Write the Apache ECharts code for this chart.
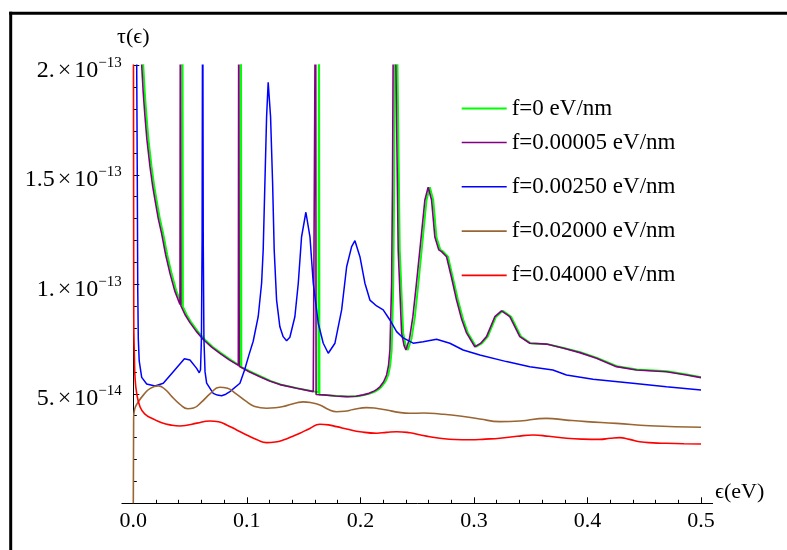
<!DOCTYPE html>
<html>
<head>
<meta charset="utf-8">
<script src="https://cdn.jsdelivr.net/npm/echarts@6/dist/echarts.min.js"></script>
<style>
  html, body { margin: 0; padding: 0; background: #fff; }
  #chart { width: 787px; height: 550px; }
</style>
</head>
<body>
<div id="chart"></div>
<script>
// Legend names and colours of the five field strengths
const seriesNames = ['f=0 eV/nm', 'f=0.00005 eV/nm', 'f=0.00250 eV/nm', 'f=0.02000 eV/nm', 'f=0.04000 eV/nm'];
const seriesColors = ['#00ff00', '#800080', '#0000ff', '#996633', '#ff0000'];

// τ(ϵ) in units of 1e-14, as [ϵ in eV, τ] pairs; values above 20 are off-scale resonance tops
const tauF0 = [
  [0.0075, 26], [0.0088, 20.0], [0.0102, 18.7], [0.0117, 17.65], [0.0134, 16.6], [0.0161, 15.37],
  [0.0184, 14.5], [0.0205, 13.85], [0.0234, 13.0], [0.0264, 12.3], [0.0299, 11.35], [0.0337, 10.5],
  [0.0379, 9.7], [0.0429, 9.05], [0.0433, 26], [0.0437, 8.98], [0.0469, 8.62], [0.0512, 8.25],
  [0.0568, 7.85], [0.0629, 7.48], [0.0703, 7.13], [0.0776, 6.85], [0.0858, 6.55], [0.0944, 6.27],
  [0.0948, 26], [0.0952, 6.22], [0.1033, 6.01], [0.1128, 5.78], [0.1213, 5.58], [0.1304, 5.42],
  [0.1451, 5.25], [0.1598, 5.10], [0.1630, 5.06], [0.1635, 26], [0.1640, 4.96], [0.1690, 4.95],
  [0.1795, 4.90], [0.1893, 4.87], [0.1975, 4.89], [0.2040, 4.95], [0.2090, 5.02], [0.2128, 5.10],
  [0.2160, 5.20], [0.2187, 5.32], [0.2220, 5.55], [0.2246, 5.86], [0.2263, 6.3], [0.2276, 7.0],
  [0.2290, 10.05], [0.2298, 14.61], [0.2312, 30], [0.2327, 20], [0.2347, 11.57], [0.2377, 7.78],
  [0.2400, 7.2], [0.2418, 7.0], [0.2450, 7.5], [0.2480, 8.51], [0.2510, 10.0], [0.2540, 11.57],
  [0.2583, 13.85], [0.2612, 14.43], [0.2642, 13.85], [0.2670, 12.16], [0.2705, 11.57], [0.2730, 11.49],
  [0.2772, 11.26], [0.2815, 10.3], [0.2860, 9.28], [0.2905, 8.4], [0.2947, 7.78], [0.3020, 7.15],
  [0.3070, 7.3], [0.3122, 7.61], [0.3195, 8.52], [0.3255, 8.79], [0.3328, 8.52], [0.3415, 7.61],
  [0.3500, 7.31], [0.3645, 7.27], [0.3790, 7.09], [0.3938, 6.90], [0.4085, 6.64], [0.4260, 6.26],
  [0.4435, 6.11], [0.4700, 6.03], [0.4875, 5.88], [0.5, 5.76]
];
const tauF00005 = [
  [0.0060, 26], [0.0074, 20.0], [0.0088, 18.7], [0.0103, 17.65], [0.0120, 16.6], [0.0147, 15.37],
  [0.0170, 14.5], [0.0191, 13.85], [0.0220, 13.0], [0.0250, 12.3], [0.0285, 11.35], [0.0323, 10.5],
  [0.0365, 9.7], [0.0411, 9.08], [0.0415, 26], [0.0419, 9.02], [0.0455, 8.62], [0.0499, 8.25],
  [0.0555, 7.85], [0.0616, 7.48], [0.0690, 7.13], [0.0763, 6.85], [0.0845, 6.55], [0.0925, 6.30],
  [0.0929, 26], [0.0933, 6.26], [0.1020, 6.01], [0.1115, 5.78], [0.1200, 5.58], [0.1291, 5.42],
  [0.1438, 5.25], [0.1585, 5.10], [0.1602, 5.07], [0.1606, 26], [0.1610, 4.97], [0.1673, 4.95],
  [0.1780, 4.90], [0.1879, 4.87], [0.1960, 4.89], [0.2025, 4.95], [0.2075, 5.02], [0.2113, 5.10],
  [0.2145, 5.20], [0.2172, 5.32], [0.2205, 5.55], [0.2231, 5.86], [0.2248, 6.3], [0.2260, 7.00],
  [0.2275, 10.05], [0.2283, 14.61], [0.2298, 30], [0.2313, 20], [0.2333, 11.57], [0.2363, 7.78],
  [0.2385, 7.2], [0.2401, 7.00], [0.2432, 7.5], [0.2462, 8.51], [0.2493, 10.0], [0.2524, 11.57],
  [0.2568, 13.85], [0.2597, 14.43], [0.2627, 13.85], [0.2656, 12.16], [0.2691, 11.57], [0.2715, 11.49],
  [0.2759, 11.26], [0.2803, 10.3], [0.2847, 9.28], [0.2892, 8.4], [0.2935, 7.78], [0.3008, 7.15],
  [0.3058, 7.3], [0.3111, 7.61], [0.3184, 8.52], [0.3243, 8.79], [0.3316, 8.52], [0.3404, 7.61],
  [0.3492, 7.31], [0.3639, 7.27], [0.3783, 7.09], [0.3932, 6.88], [0.4079, 6.62], [0.4255, 6.24],
  [0.4431, 6.09], [0.4695, 6.01], [0.4871, 5.86], [0.5, 5.74]
];
const tauF00250 = [
  [0.0024, 26], [0.0030, 20], [0.0035, 15], [0.0039, 9.83], [0.0044, 7.53], [0.0052, 6.5],
  [0.0074, 5.75], [0.0118, 5.45], [0.0191, 5.36], [0.0264, 5.48], [0.0352, 6.01], [0.0450, 6.6],
  [0.0499, 6.54], [0.0558, 6.16], [0.0581, 5.96], [0.0592, 6.1], [0.0600, 7.5], [0.0606, 12],
  [0.0611, 26], [0.0616, 12], [0.0622, 7.5], [0.0632, 6.0], [0.0646, 5.49], [0.0704, 5.02],
  [0.0740, 4.94], [0.0778, 4.91], [0.0815, 4.98], [0.0851, 5.10], [0.0939, 5.48], [0.0980, 6.09],
  [0.1020, 6.8], [0.1056, 7.4], [0.1100, 8.52], [0.1130, 10.05], [0.1144, 11.57], [0.1159, 14.61],
  [0.1174, 17.65], [0.1188, 19.22], [0.1209, 17.65], [0.1227, 14.61], [0.1241, 11.57], [0.1262, 9.28],
  [0.1291, 8.06], [0.1320, 7.61], [0.1350, 7.42], [0.1379, 7.58], [0.1423, 8.52], [0.1453, 10.05],
  [0.1482, 12.17], [0.1520, 13.29], [0.1556, 12.17], [0.1585, 10.05], [0.1629, 8.22], [0.1673, 7.31],
  [0.1717, 6.85], [0.1776, 7.31], [0.1835, 8.83], [0.1879, 10.80], [0.1923, 11.72], [0.1952, 11.99],
  [0.1996, 11.26], [0.2040, 10.05], [0.2084, 9.28], [0.2143, 9.01], [0.2201, 8.83], [0.2260, 8.37],
  [0.2319, 7.84], [0.2377, 7.55], [0.2465, 7.31], [0.2553, 7.38], [0.2671, 7.49], [0.2788, 7.31],
  [0.2905, 7.00], [0.3052, 6.77], [0.3287, 6.47], [0.3492, 6.24], [0.3695, 6.09], [0.3815, 5.86],
  [0.4049, 5.66], [0.4399, 5.48], [0.4695, 5.32], [0.5, 5.17]
];
const tauF02000 = [
  [0, 0], [0.0003, 3.9], [0.0012, 4.3], [0.0040, 4.6], [0.0090, 4.95], [0.0150, 5.25],
  [0.0220, 5.36], [0.0280, 5.2], [0.0340, 4.87], [0.0411, 4.52], [0.0480, 4.32], [0.0530, 4.35],
  [0.0600, 4.62], [0.0680, 5.02], [0.0760, 5.30], [0.0830, 5.25], [0.0900, 5.02], [0.0998, 4.64],
  [0.1070, 4.42], [0.1174, 4.34], [0.1250, 4.36], [0.1350, 4.46], [0.1450, 4.60], [0.1496, 4.63],
  [0.1560, 4.60], [0.1643, 4.49], [0.1720, 4.28], [0.1790, 4.18], [0.1860, 4.20], [0.1937, 4.28],
  [0.2055, 4.37], [0.2150, 4.33], [0.2231, 4.26], [0.2340, 4.15], [0.2436, 4.11], [0.2560, 4.12],
  [0.2700, 4.08], [0.2876, 3.99], [0.3052, 3.85], [0.3228, 3.73], [0.3404, 3.76], [0.3639, 3.88],
  [0.3815, 3.80], [0.3991, 3.73], [0.4255, 3.65], [0.4548, 3.54], [0.5, 3.47]
];
const tauF04000 = [
  [0, 26], [0.0004, 8.5], [0.0010, 6.6], [0.0015, 5.78], [0.0030, 5.02], [0.0059, 4.41],
  [0.0100, 4.08], [0.0176, 3.85], [0.0250, 3.68], [0.0323, 3.58], [0.0411, 3.53], [0.0470, 3.56],
  [0.0560, 3.66], [0.0675, 3.76], [0.0750, 3.72], [0.0822, 3.58], [0.0910, 3.35], [0.0998, 3.12],
  [0.1090, 2.90], [0.1174, 2.77], [0.1250, 2.80], [0.1320, 2.89], [0.1400, 3.05], [0.1467, 3.20],
  [0.1555, 3.42], [0.1643, 3.61], [0.1720, 3.58], [0.1790, 3.50], [0.1900, 3.37], [0.1996, 3.27],
  [0.2143, 3.20], [0.2230, 3.24], [0.2319, 3.27], [0.2436, 3.22], [0.2530, 3.12], [0.2612, 3.04],
  [0.2700, 2.97], [0.2830, 2.91], [0.2964, 2.90], [0.3100, 2.93], [0.3228, 2.97], [0.3380, 3.06],
  [0.3521, 3.12], [0.3660, 3.06], [0.3815, 2.97], [0.3960, 2.93], [0.4108, 2.92], [0.4200, 2.97],
  [0.4284, 3.00], [0.4370, 2.92], [0.4460, 2.81], [0.4580, 2.76], [0.4695, 2.74], [0.4850, 2.72],
  [0.5, 2.71]
];

// Tick labels: y values in units of 1e-14, written as mantissa × 10^exponent
const yTickValues = [5, 10, 15, 20];
const yTickMantissas = ['5.', '1.', '1.5', '2.'];
const yTickExponents = ['\u221214', '\u221213', '\u221213', '\u221213'];

const FONT = "'Liberation Serif', 'Times New Roman', Times, serif";
const seriesData = [tauF0, tauF00005, tauF00250, tauF02000, tauF04000];
const lineWidths = [1.9, 1.6, 1.5, 1.6, 1.6];
// the two high-field curves are gentle waves, so they are drawn smoothed
const smoothing = [false, false, false, 0.5, 0.5];

const chart = echarts.init(document.getElementById('chart'));

const legendText = { fontFamily: FONT, fontSize: 23, lineHeight: 22, color: '#000' };

chart.setOption({
  animation: false,
  backgroundColor: '#fff',
  color: seriesColors,
  textStyle: { fontFamily: FONT },
  grid: [
    { left: 133.3, right: 86, top: 65.3, bottom: 46.7 },
    { left: 121.9, right: 74.4, top: 65.3, bottom: 46.7 }
  ],
  xAxis: [
    {
      gridIndex: 0, type: 'value', min: 0, max: 0.5, interval: 0.1,
      name: '\u03f5(eV)', nameLocation: 'end', nameGap: 14,
      nameTextStyle: { fontFamily: FONT, fontSize: 22, color: '#000', verticalAlign: 'bottom' },
      axisLine: { show: false },
      axisTick: { show: true, inside: true, length: 6, lineStyle: { color: '#000', width: 1 } },
      minorTick: { show: true, splitNumber: 5, length: 3.5, lineStyle: { color: '#000', width: 1 } },
      splitLine: { show: false },
      axisLabel: {
        margin: 7, fontFamily: FONT, fontSize: 22, color: '#000',
        formatter: v => v.toFixed(1)
      }
    },
    {
      gridIndex: 1, type: 'value', min: 0, max: 1,
      axisLine: { show: true, onZero: false, lineStyle: { color: '#000', width: 1 } },
      axisTick: { show: false }, axisLabel: { show: false }, splitLine: { show: false }
    }
  ],
  yAxis: [
    {
      gridIndex: 0, type: 'value', min: 0, max: 20, interval: 5,
      name: '\u03c4(\u03f5)', nameLocation: 'end', nameGap: 28,
      nameTextStyle: { fontFamily: FONT, fontSize: 22, color: '#000', align: 'center', verticalAlign: 'middle' },
      axisLine: { show: true, onZero: false, lineStyle: { color: '#000', width: 1 } },
      axisTick: { show: true, inside: true, length: 6, lineStyle: { color: '#000', width: 1 } },
      minorTick: { show: true, splitNumber: 5, length: 3.5, lineStyle: { color: '#000', width: 1 } },
      splitLine: { show: false },
      axisLabel: {
        margin: 11.5, color: '#000',
        formatter: v => {
          const i = yTickValues.indexOf(v);
          return i < 0 ? '' : '{m|' + yTickMantissas[i] + '}{x|\u00d7}{m|10}{e|' + yTickExponents[i] + '}';
        },
        rich: {
          m: { fontFamily: FONT, fontSize: 24, color: '#000', verticalAlign: 'bottom', padding: [10, 0, 0, 0] },
          x: { fontFamily: FONT, fontSize: 24, color: '#000', verticalAlign: 'bottom', padding: [10, 3, 0, 3] },
          e: { fontFamily: FONT, fontSize: 15, color: '#000', verticalAlign: 'top', padding: [7, 0, 0, 0] }
        }
      }
    },
    { gridIndex: 1, type: 'value', min: 0, max: 20, show: false }
  ],
  legend: [
    {
      data: [seriesNames[0]], orient: 'vertical', left: 461.7, top: 97, padding: 0,
      icon: 'rect', itemWidth: 45, itemHeight: 2, selectedMode: false, textStyle: legendText
    },
    {
      data: seriesNames.slice(1), orient: 'vertical', left: 461.7, top: 131, padding: 0,
      icon: 'rect', itemWidth: 45, itemHeight: 1.6, itemGap: 21.3, selectedMode: false, textStyle: legendText
    }
  ],
  graphic: [
    { type: 'line', shape: { x1: 9.2, y1: 13.3, x2: 787, y2: 13.3 }, style: { stroke: '#000', lineWidth: 3 }, silent: true },
    { type: 'line', shape: { x1: 10.7, y1: 11.8, x2: 10.7, y2: 550 }, style: { stroke: '#000', lineWidth: 3 }, silent: true }
  ],
  series: seriesData.map((d, i) => ({
    name: seriesNames[i],
    type: 'line',
    xAxisIndex: 0,
    yAxisIndex: 0,
    data: d,
    symbol: 'none',
    showSymbol: false,
    smooth: smoothing[i],
    clip: true,
    itemStyle: { color: seriesColors[i] },
    lineStyle: { color: seriesColors[i], width: lineWidths[i] },
    z: 2 + i
  }))
});
</script>
</body>
</html>
